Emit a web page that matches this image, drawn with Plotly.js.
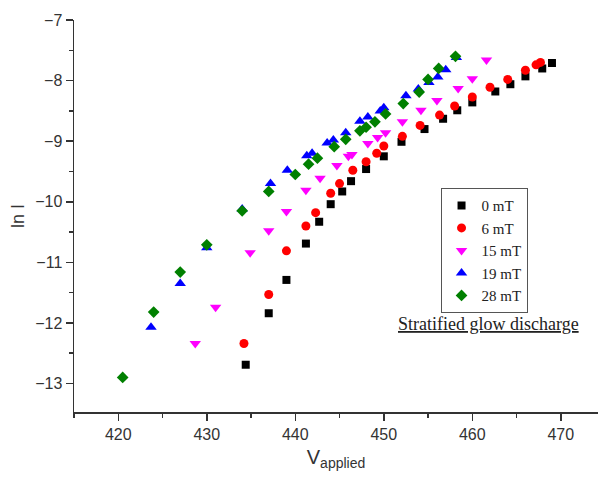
<!DOCTYPE html>
<html>
<head>
<meta charset="utf-8">
<script src="https://cdn.plot.ly/plotly-3.0.1.min.js"></script>
<style>html,body{margin:0;padding:0;background:#fff;}#plot{width:598px;height:478px;}</style>
</head>
<body>
<div id="plot"></div>
<script>
// Series names
const seriesNames = ['0 mT', '6 mT', '15 mT', '19 mT', '28 mT'];

// 0 mT
const v0 = [434.4, 437.0, 439.0, 441.2, 442.7, 444.0, 445.3, 446.3, 448.0, 450.0, 452.0, 454.6, 456.7, 458.3, 460.0, 462.6, 464.3, 466.0, 467.9, 469.0];
const i0 = [-12.69, -11.84, -11.29, -10.69, -10.33, -10.04, -9.83, -9.66, -9.46, -9.25, -9.01, -8.80, -8.63, -8.49, -8.36, -8.18, -8.06, -7.93, -7.80, -7.71];

// 6 mT
const v6 = [434.2, 437.0, 439.0, 441.2, 442.3, 444.0, 445.0, 446.5, 448.0, 449.2, 450.0, 452.1, 454.1, 456.3, 458.0, 460.0, 462.0, 464.0, 466.0, 467.2, 467.7];
const i6 = [-12.34, -11.53, -10.81, -10.40, -10.18, -9.86, -9.70, -9.48, -9.34, -9.20, -9.08, -8.92, -8.74, -8.57, -8.42, -8.27, -8.11, -7.98, -7.83, -7.74, -7.70];

// 15 mT
const v15 = [428.7, 431.0, 434.9, 437.0, 439.0, 441.2, 442.8, 444.7, 446.0, 446.4, 448.2, 449.3, 450.2, 452.1, 454.2, 456.0, 458.4, 460.0, 461.6];
const i15 = [-12.34, -11.74, -10.84, -10.48, -10.16, -9.81, -9.61, -9.40, -9.25, -9.22, -9.04, -8.94, -8.86, -8.68, -8.49, -8.33, -8.13, -7.97, -7.66];

// 19 mT
const v19 = [423.7, 427.0, 430.0, 434.0, 437.2, 439.1, 441.3, 441.9, 443.6, 444.3, 445.7, 447.3, 448.2, 449.6, 450.0, 452.5, 453.9, 455.1, 456.1, 457.0, 458.2];
const i19 = [-12.07, -11.35, -10.76, -10.12, -9.70, -9.48, -9.24, -9.20, -9.03, -8.98, -8.86, -8.67, -8.60, -8.50, -8.45, -8.25, -8.14, -8.03, -7.94, -7.82, -7.62];

// 28 mT
const v28 = [420.5, 424.0, 427.0, 430.0, 434.0, 437.0, 440.0, 441.5, 442.5, 444.4, 445.7, 447.3, 448.0, 449.0, 450.2, 452.2, 454.0, 455.0, 456.2, 458.1];
const i28 = [-12.90, -11.82, -11.16, -10.71, -10.15, -9.83, -9.55, -9.38, -9.28, -9.09, -8.97, -8.83, -8.77, -8.68, -8.55, -8.38, -8.19, -7.98, -7.80, -7.60];

const xTickVals = [420, 430, 440, 450, 460, 470];
const yTickVals = [-13, -12, -11, -10, -9, -8, -7];

const xs = [v0, v6, v15, v19, v28];
const ys = [i0, i6, i15, i19, i28];
const colors = ['#000000', '#ff0000', '#ff00ff', '#0000ff', '#008000'];
const symbols = ['square', 'circle', 'triangle-down', 'triangle-up', 'diamond'];
const sizes = [8, 9, 10, 10, 9];

const traces = xs.map((x, k) => ({
  type: 'scatter', mode: 'markers', x: x, y: ys[k], name: seriesNames[k],
  marker: {color: colors[k], symbol: symbols[k], size: sizes[k], line: {width: 0}},
  cliponaxis: false
}));

const axisFont = {family: 'Liberation Sans, Arial, sans-serif', size: 16, color: '#333'};

const layout = {
  width: 598, height: 478,
  margin: {l: 74, r: 0, t: 20, b: 66},
  paper_bgcolor: '#fff', plot_bgcolor: '#fff',
  showlegend: true,
  xaxis: {
    range: [415, 474.2], tickvals: xTickVals, ticks: 'outside', ticklen: 7, tickwidth: 1.5, tickcolor: '#333',
    showline: true, linecolor: '#333', linewidth: 1.5, showgrid: false, zeroline: false,
    tickfont: axisFont,
    minor: {dtick: 5, tick0: 415, ticks: 'outside', ticklen: 4, tickwidth: 1.5, tickcolor: '#333', showgrid: false},
    title: {text: 'V<sub>applied</sub>', font: {family: 'Liberation Sans, Arial, sans-serif', size: 20, color: '#333'}, standoff: 8}
  },
  yaxis: {
    range: [-13.47, -7], tickvals: yTickVals, ticks: 'outside', ticklen: 7, tickwidth: 1.5, tickcolor: '#333',
    showline: true, linecolor: '#333', linewidth: 1.5, showgrid: false, zeroline: false,
    tickfont: axisFont,
    minor: {dtick: 0.5, tick0: -7, ticks: 'outside', ticklen: 4, tickwidth: 1.5, tickcolor: '#333', showgrid: false},
    title: {text: 'ln I', font: {family: 'Liberation Sans, Arial, sans-serif', size: 18, color: '#333'}, standoff: 6}
  },
  legend: {
    x: 0.6995, y: 0.571, xanchor: 'left', yanchor: 'top',
    bgcolor: '#fff', bordercolor: '#555', borderwidth: 1,
    font: {family: 'Liberation Serif, Times New Roman, serif', size: 15, color: '#222'},
    itemwidth: 30
  },
  annotations: [{
    xref: 'paper', yref: 'paper', x: 0.7918, y: 0.225, xanchor: 'center', yanchor: 'middle',
    text: 'Stratified glow discharge', showarrow: false,
    font: {family: 'Liberation Serif, Times New Roman, serif', size: 18, color: '#222', lineposition: 'under'}
  }]
};

Plotly.newPlot('plot', traces, layout, {staticPlot: true, displayModeBar: false});
</script>
</body>
</html>
